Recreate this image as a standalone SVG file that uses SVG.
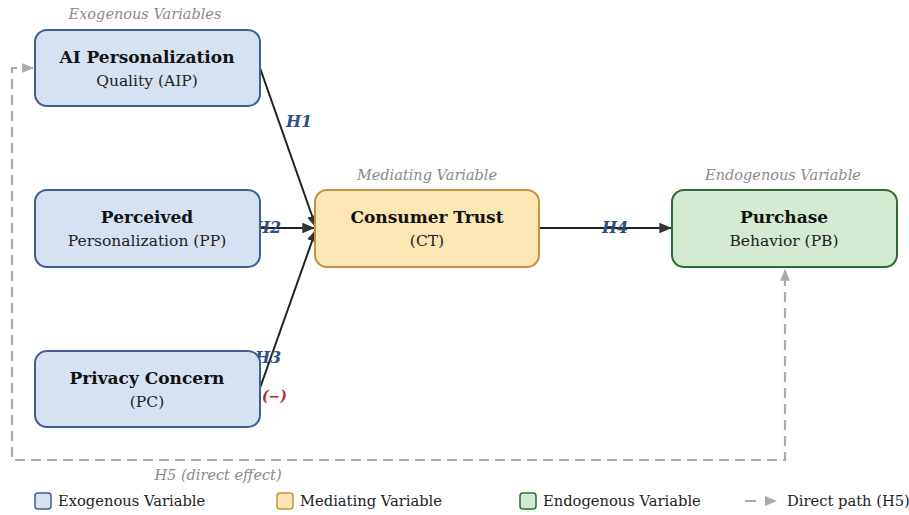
<svg xmlns="http://www.w3.org/2000/svg" width="909" height="515" viewBox="0 0 909 515">
<style>
text{font-family:"DejaVu Serif","Liberation Serif",serif;}
.t{font-weight:bold;font-size:17px;fill:#111;text-anchor:middle}
.s{font-size:15.5px;fill:#222;text-anchor:middle}
.cap{font-style:italic;font-size:14.5px;fill:#8a8a8a;text-anchor:middle}
.h{font-style:italic;font-weight:bold;font-size:16px;fill:#2c4f85}
.exo{fill:#d6e2f2;stroke:#3d5f92;stroke-width:2}
.med{fill:#fbe6b4;stroke:#c3933b;stroke-width:2}
.endo{fill:#d4ead2;stroke:#2f6b33;stroke-width:2}
.e{stroke:#222;stroke-width:2;fill:none;marker-end:url(#ah)}
.d{stroke:#aaa;stroke-width:2.2;fill:none;stroke-dasharray:10,6}
.lg{font-size:14.7px;fill:#222}
</style>
<defs>
<marker id="ah" viewBox="0 0 10 10" refX="9" refY="5" markerWidth="13" markerHeight="13" orient="auto" markerUnits="userSpaceOnUse">
<path d="M0,1 L10,5 L0,9 z" fill="#333"/>
</marker>
<marker id="gh" viewBox="0 0 10 10" refX="9" refY="5" markerWidth="12" markerHeight="12" orient="auto-start-reverse" markerUnits="userSpaceOnUse">
<path d="M0,1 L10,5 L0,9 z" fill="#aaa"/>
</marker>
</defs>
<rect width="909" height="515" fill="#fff"/>
<text class="cap" x="145" y="19">Exogenous Variables</text>
<text class="cap" x="427" y="180">Mediating Variable</text>
<text class="cap" x="783" y="180">Endogenous Variable</text>
<g id="connectors">
<path class="d" d="M33,68 L12,68 L12,460 L785,460 L785,270" marker-start="url(#gh)" marker-end="url(#gh)"/>
<line class="e" x1="260" y1="68" x2="316" y2="227"/>
<line class="e" x1="260" y1="228" x2="314" y2="228"/>
<line class="e" x1="260" y1="388" x2="316" y2="230"/>
<line class="e" x1="539" y1="228" x2="671" y2="228"/>
<text class="h" x="286" y="127">H1</text>
<text class="h" x="255" y="233">H2</text>
<text class="h" x="255" y="363">H3</text>
<text x="262" y="401" style="font-style:italic;font-weight:bold;font-size:14px;fill:#b52a2a">(−)</text>
<text class="h" x="602" y="233">H4</text>
<text class="cap" x="218" y="480">H5 (direct effect)</text>
</g>
<g id="AIP">
<rect class="exo" x="35" y="30" width="225" height="76" rx="12"/>
<text class="t" x="147" y="63">AI Personalization</text>
<text class="s" x="147" y="86">Quality (AIP)</text>
</g>
<g id="PP">
<rect class="exo" x="35" y="190" width="225" height="77" rx="12"/>
<text class="t" x="147" y="223">Perceived</text>
<text class="s" x="147" y="246">Personalization (PP)</text>
</g>
<g id="PC">
<rect class="exo" x="35" y="351" width="225" height="76" rx="12"/>
<text class="t" x="147" y="384">Privacy Concern</text>
<text class="s" x="147" y="407">(PC)</text>
</g>
<g id="CT">
<rect class="med" x="315" y="190" width="224" height="77" rx="12"/>
<text class="t" x="427" y="223">Consumer Trust</text>
<text class="s" x="427" y="246">(CT)</text>
</g>
<g id="PB">
<rect class="endo" x="672" y="190" width="225" height="77" rx="12"/>
<text class="t" x="784" y="223">Purchase</text>
<text class="s" x="784" y="246">Behavior (PB)</text>
</g>
<g id="legend">
<rect class="exo" x="35" y="493" width="16" height="16" rx="3" style="stroke-width:1.5"/>
<text class="lg" x="58" y="506">Exogenous Variable</text>
<rect class="med" x="277" y="493" width="16" height="16" rx="3" style="stroke-width:1.5"/>
<text class="lg" x="300" y="506">Mediating Variable</text>
<rect class="endo" x="520" y="493" width="16" height="16" rx="3" style="stroke-width:1.5"/>
<text class="lg" x="543" y="506">Endogenous Variable</text>
<line x1="745" y1="501" x2="756" y2="501" stroke="#aaa" stroke-width="2"/>
<path d="M765,496 L777,501 L765,506 z" fill="#aaa"/>
<text class="lg" x="787" y="506">Direct path (H5)</text>
</g>
</svg>
